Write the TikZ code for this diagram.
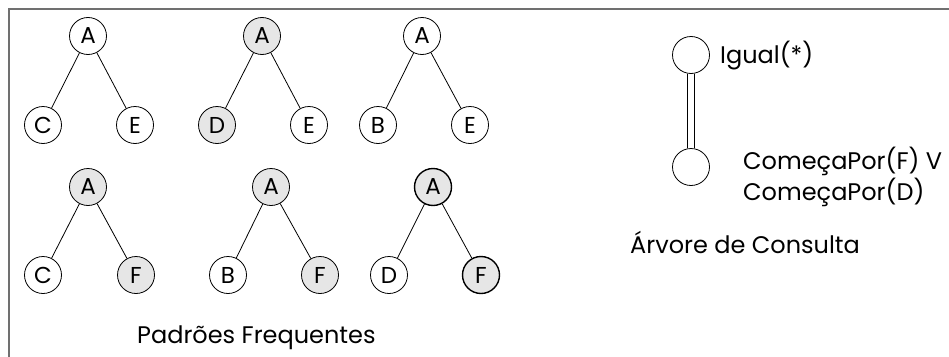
\documentclass[tikz,border=0pt]{standalone}
\usepackage{fontspec}
\setmainfont{Poppins}
\definecolor{nodefill}{HTML}{E6E6E6}
\definecolor{framegray}{HTML}{707070}
\tikzset{
  vtx/.style={circle, draw=black, line width=0.8pt, minimum size=37pt, inner sep=0pt, font=\fontsize{23}{26}\selectfont},
  filled/.style={fill=nodefill},
  bold/.style={line width=1.4pt},
  edge/.style={line width=0.8pt},
  lbl/.style={font=\fontsize{24}{30}\selectfont, inner sep=0pt, anchor=base west}
}
\begin{document}
\begin{tikzpicture}[x=1pt,y=-1pt]
\useasboundingbox (0,0) rectangle (949,356);
\draw[framegray, line width=1.5pt] (9,370) -- (9,9) -- (960,9);
% tree 1
\node[vtx] (t1a) at (88,36) {A};
\node[vtx] (t1c) at (43,125) {C};
\node[vtx] (t1e) at (135,125) {E};
\draw[edge] (t1a) -- (t1c); \draw[edge] (t1a) -- (t1e);
% tree 2
\node[vtx,filled] (t2a) at (262,36) {A};
\node[vtx,filled] (t2d) at (217,125) {D};
\node[vtx] (t2e) at (309,125) {E};
\draw[edge] (t2a) -- (t2d); \draw[edge] (t2a) -- (t2e);
% tree 3
\node[vtx] (t3a) at (422,36) {A};
\node[vtx] (t3b) at (378,125) {B};
\node[vtx] (t3e) at (470,125) {E};
\draw[edge] (t3a) -- (t3b); \draw[edge] (t3a) -- (t3e);
% tree 4
\node[vtx,filled] (t4a) at (88,187) {A};
\node[vtx] (t4c) at (43,275) {C};
\node[vtx,filled] (t4f) at (136,275) {F};
\draw[edge] (t4a) -- (t4c); \draw[edge] (t4a) -- (t4f);
% tree 5
\node[vtx,filled] (t5a) at (271,187) {A};
\node[vtx] (t5b) at (228,275) {B};
\node[vtx,filled] (t5f) at (320,275) {F};
\draw[edge] (t5a) -- (t5b); \draw[edge] (t5a) -- (t5f);
% tree 6
\node[vtx,filled,bold] (t6a) at (433,187) {A};
\node[vtx] (t6d) at (389,275) {D};
\node[vtx,filled,bold] (t6f) at (481,275) {F};
\draw[edge] (t6a) -- (t6d); \draw[edge] (t6a) -- (t6f);
\node[lbl] (pf) at (137,343) {Padrões Frequentes};
% query tree
\node[vtx] (q1) at (691,55) {};
\node[vtx] (q2) at (691,167) {};
\draw[line width=0.9pt, double, double distance=5.5pt] (q1.south) -- (q2.north);
\node[lbl] (l1) at (720,63) {Igual(*)};
\node[lbl] (l2) at (743,169) {ComeçaPor(F) V};
\node[lbl] (l2b) at (743,200) {ComeçaPor(D)};
\node[lbl] (l3) at (630,253) {Árvore de Consulta};
\end{tikzpicture}
\end{document}
